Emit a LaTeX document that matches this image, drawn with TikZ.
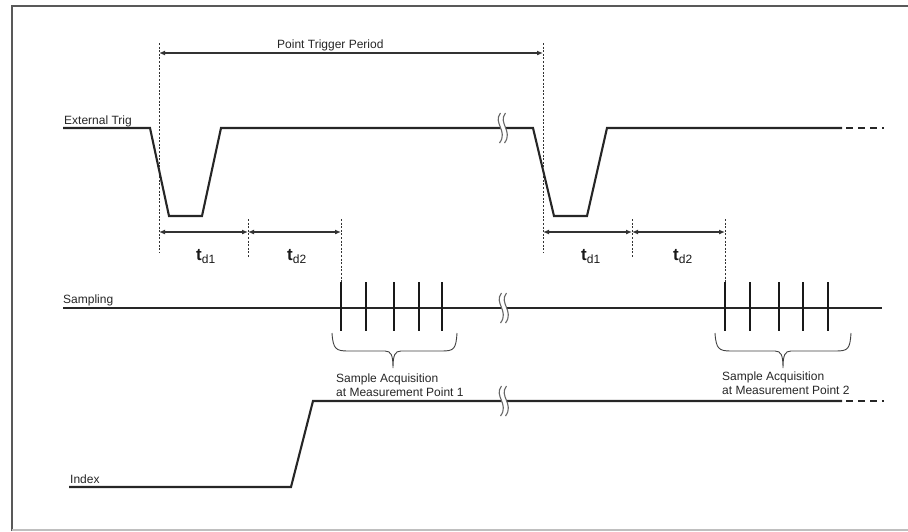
\documentclass[tikz,border=0pt]{standalone}
\usepackage{fontspec}
\setmainfont{Liberation Sans}
\usetikzlibrary{arrows.meta}
\begin{document}
\begin{tikzpicture}[x=1pt,y=-1pt,
  sig/.style={line width=2.1pt,color=black!85,line join=miter},
  sigdash/.style={line width=2.1pt,color=black!85,dash pattern=on 7pt off 5pt},
  guide/.style={line width=0.9pt,color=black!80,dash pattern=on 2pt off 1.6pt},
  dim/.style={line width=1.2pt,color=black!80,{Latex[length=6pt,width=5pt]}-{Latex[length=6pt,width=5pt]}},
  tick/.style={line width=2.6pt,color=black!90},
  brace/.style={line width=0.9pt,color=black!75},
  lbl/.style={anchor=base west,inner sep=0pt,font=\fontsize{12}{14}\selectfont,text=black!85},
  tdl/.style={anchor=base west,inner sep=0pt,text=black!90},
  brk/.pic={
    \fill[white] (-1.5,-15) .. controls (-9.5,-5) and (6.5,3) .. (-2.5,15) -- (2.5,15) .. controls (11.5,3) and (-4.5,-5) .. (3.5,-15) -- cycle;
    \draw[line width=1.1pt,black!60] (-1.5,-15) .. controls (-9.5,-5) and (6.5,3) .. (-2.5,15);
    \draw[line width=1.1pt,black!60] (3.5,-15) .. controls (-4.5,-5) and (11.5,3) .. (2.5,15);
  }]
\useasboundingbox (0,0) rectangle (908,531);
% frame
\draw[line width=2pt,black!65] (11.5,531) -- (11.5,5.5) -- (908,5.5);
\draw[line width=2pt,black!25] (11.5,529.5) -- (908,529.5);

% guide coordinates
\coordinate (g1t) at (159,43);  \coordinate (g1b) at (159,252);
\coordinate (g2t) at (543,43);  \coordinate (g2b) at (543,252);
\coordinate (g3t) at (248,219); \coordinate (g3b) at (248,257);
\coordinate (g4t) at (341,219); \coordinate (g4b) at (341,282);
\coordinate (g5t) at (632,219); \coordinate (g5b) at (632,257);
\coordinate (g6t) at (725,219); \coordinate (g6b) at (725,282);
\foreach \i in {1,...,6} \draw[guide] (g\i t) -- (g\i b);

% Point trigger period
\coordinate (pa) at (159,53); \coordinate (pb) at (543,53);
\draw[dim] (pa) -- (pb);
\node[lbl] (ptp) at (277,48) {Point Trigger Period};

% External trig
\node[lbl] (ext) at (64,124) {External Trig};
\draw[sig] (63,128) -- (150,128) -- (169,216) -- (202,216) -- (221,128) -- (533,128) -- (554,216) -- (587,216) -- (607,128) -- (842,128);
\draw[sigdash] (846,128) -- (884,128);
\pic at (502,128) {brk};

% td arrows
\coordinate (a1) at (159,232); \coordinate (a2) at (248,232); \coordinate (a3) at (341,232);
\coordinate (b1) at (543,232); \coordinate (b2) at (632,232); \coordinate (b3) at (725,232);
\draw[dim] (a1) -- (a2);
\draw[dim] (a2) -- (a3);
\draw[dim] (b1) -- (b2);
\draw[dim] (b2) -- (b3);
\node[tdl] (td1a) at (196,260) {{\fontsize{17}{17}\selectfont\bfseries t}\raisebox{-3.5pt}{\fontsize{12}{12}\selectfont d1}};
\node[tdl] (td2a) at (287,260) {{\fontsize{17}{17}\selectfont\bfseries t}\raisebox{-3.5pt}{\fontsize{12}{12}\selectfont d2}};
\node[tdl] (td1b) at (581,260) {{\fontsize{17}{17}\selectfont\bfseries t}\raisebox{-3.5pt}{\fontsize{12}{12}\selectfont d1}};
\node[tdl] (td2b) at (673,260) {{\fontsize{17}{17}\selectfont\bfseries t}\raisebox{-3.5pt}{\fontsize{12}{12}\selectfont d2}};

% Sampling
\node[lbl] (smp) at (63,303) {Sampling};
\draw[sig] (63,308) -- (882,308);
\pic at (503,308) {brk};
\foreach \x in {341,366,394,419,442,725,750,779,803,828}
  \draw[tick] (\x,282) -- (\x,331);

% braces
\draw[brace] (332,333) .. controls (333,349) and (336,351) .. (348,351) -- (385,351)
  .. controls (391,351) and (393,355) .. (393,368)
  .. controls (393,355) and (395,351) .. (401,351) -- (442,351)
  .. controls (454,351) and (456,349) .. (457,333);
\draw[brace] (715,333) .. controls (716,349) and (719,351) .. (731,351) -- (775,351)
  .. controls (781,351) and (783,355) .. (783,368)
  .. controls (783,355) and (785,351) .. (791,351) -- (836,351)
  .. controls (848,351) and (850,349) .. (851,333);
\node[lbl] (sa1) at (336,382) {Sample Acquisition};
\node[lbl] (mp1) at (336,396) {at Measurement Point 1};
\node[lbl] (sa2) at (722,380) {Sample Acquisition};
\node[lbl] (mp2) at (722,394) {at Measurement Point 2};

% Index
\node[lbl] (idx) at (70,483) {Index};
\draw[sig] (69,487) -- (291,487) -- (313,401) -- (842,401);
\draw[sigdash] (846,401) -- (884,401);
\pic at (503,401) {brk};
\end{tikzpicture}
\end{document}
